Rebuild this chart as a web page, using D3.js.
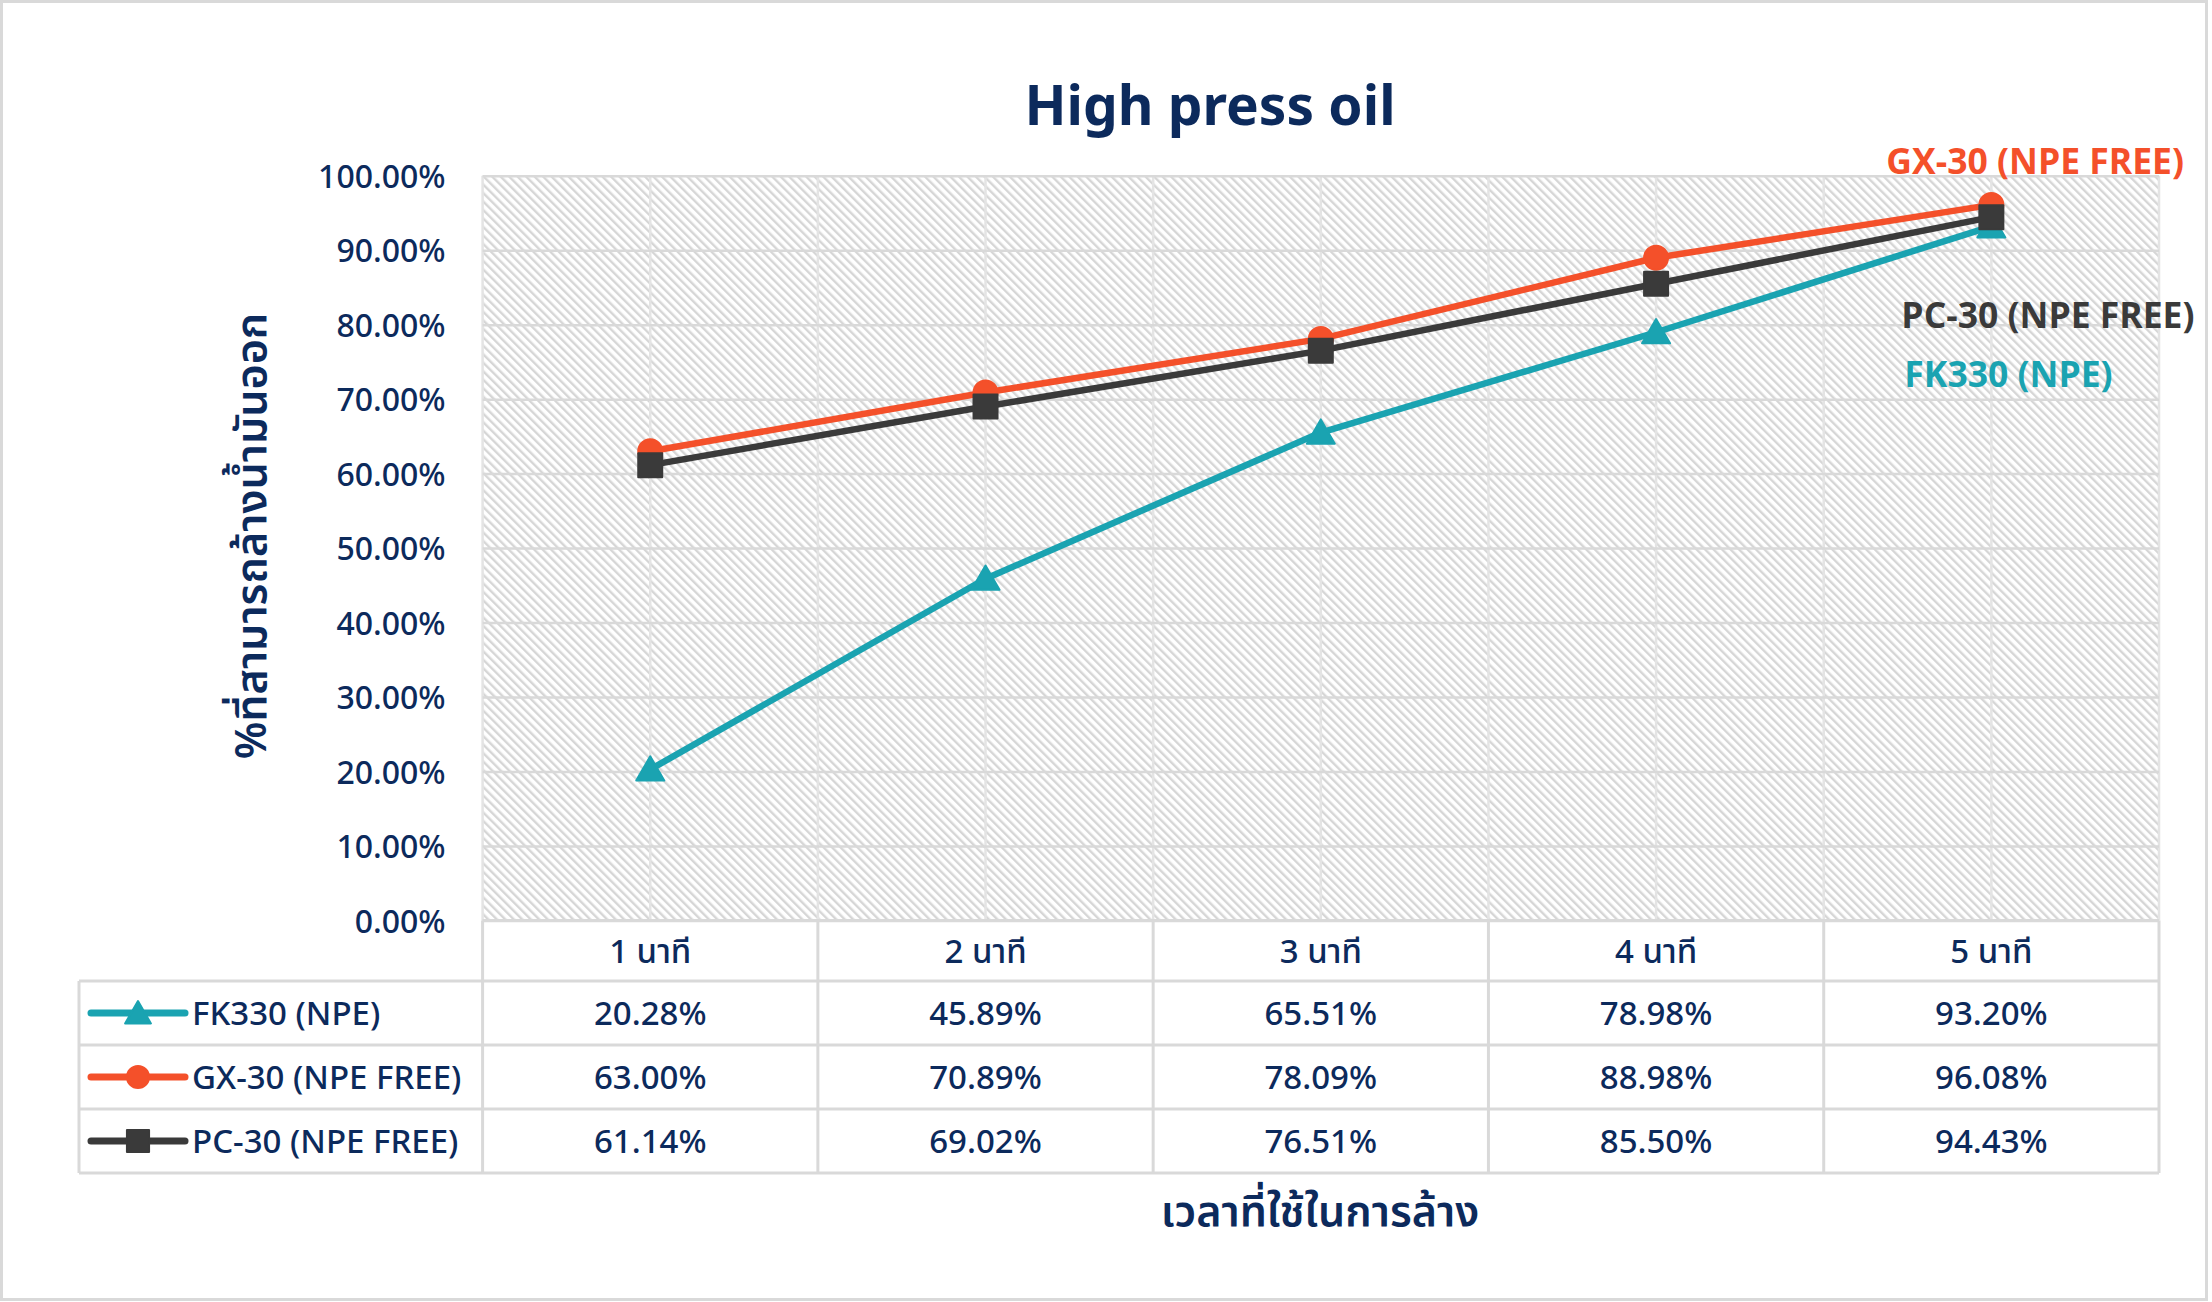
<!DOCTYPE html>
<html><head><meta charset="utf-8">
<script src="https://cdn.jsdelivr.net/npm/d3@7"></script>
<style>body{margin:0;background:#fff}</style>
</head><body><svg id="c" width="2212" height="1302"></svg>
<script>
// ---- data ----
const categories = ["1 นาที", "2 นาที", "3 นาที", "4 นาที", "5 นาที"];
const seriesNames = ["FK330 (NPE)", "GX-30 (NPE FREE)", "PC-30 (NPE FREE)"];
const fk330 = [20.28, 45.89, 65.51, 78.98, 93.20];
const gx30 = [63.00, 70.89, 78.09, 88.98, 96.08];
const pc30 = [61.14, 69.02, 76.51, 85.50, 94.43];
const yTicks = [0, 10, 20, 30, 40, 50, 60, 70, 80, 90, 100];
const titleText = "High press oil";
const yTitleText = "%ที่สามารถล้างน้ำมันออก";
const xTitleText = "เวลาที่ใช้ในการล้าง";

// ---- styles ----
const NAVY = "#0c2a5c", GRID = "#d9d9d9";
const FONT = "'Noto Sans', 'Noto Sans Thai', Lato, sans-serif";
const styles = [
  {color: "#1aa3b1", symbol: d3.symbolTriangle, size: 340, labelDx: -87, labelY: 387},
  {color: "#f4502a", symbol: d3.symbolCircle, size: 452, labelDx: -105, labelY: 174},
  {color: "#3a3a3a", symbol: d3.symbolSquare, size: 576, labelDx: -90, labelY: 328}
];
const seriesValues = [fk330, gx30, pc30];
const series = seriesNames.map((n, i) => ({name: n, values: seriesValues[i], ...styles[i]}));

const svg = d3.select("#c");
const plotL = 482.6, plotR = 2159, plotT = 175.7, plotB = 920.5;
const tableL = 79, headerB = 981, rowH = 64;

const x = d3.scaleBand().domain(categories).range([plotL, plotR]).padding(0);
const y = d3.scaleLinear().domain([0, 100]).range([plotB, plotT]);

// outer border
svg.append("rect").attr("x", 1.5).attr("y", 1.5).attr("width", 2205).attr("height", 1298)
  .attr("fill", "#fff").attr("stroke", GRID).attr("stroke-width", 3);

// hatch pattern
const defs = svg.append("defs");
const pat = defs.append("pattern").attr("id", "hatch").attr("patternUnits", "userSpaceOnUse")
  .attr("width", 6).attr("height", 6).attr("patternTransform", "rotate(-45)");
pat.append("rect").attr("width", 6).attr("height", 6).attr("fill", "#fff");
pat.append("rect").attr("width", 2.4).attr("height", 6).attr("fill", "#d6d6d6");

svg.append("rect").attr("x", plotL).attr("y", plotT).attr("width", plotR - plotL).attr("height", plotB - plotT)
  .attr("fill", "url(#hatch)");

// vertical gridlines (category edges and centers)
const vLines = [];
categories.forEach(c => { vLines.push(x(c)); vLines.push(x(c) + x.bandwidth() / 2); });
vLines.push(plotR);
svg.append("g").selectAll("line").data(vLines).join("line")
  .attr("x1", d => d).attr("x2", d => d).attr("y1", plotT).attr("y2", plotB)
  .attr("stroke", "#e4e4e4").attr("stroke-width", 2.5);

// horizontal gridlines via axis
const yAxis = svg.append("g").attr("transform", `translate(${plotL},0)`)
  .call(d3.axisLeft(y).tickValues(yTicks).tickFormat(d => d3.format(".2f")(d) + "%").tickSize(-(plotR - plotL)).tickPadding(37));
yAxis.select(".domain").remove();
yAxis.selectAll(".tick line").attr("stroke", GRID).attr("stroke-width", 2.5);
yAxis.selectAll(".tick text").attr("fill", NAVY).style("font-family", FONT).style("font-size", "32px")
  .style("font-weight", 500).attr("dy", "0.36em");

// table
const tg = svg.append("g");
tg.append("line").attr("x1", plotL).attr("x2", plotR).attr("y1", plotB).attr("y2", plotB).attr("stroke", GRID).attr("stroke-width", 3);
[headerB, ...series.map((s, i) => headerB + (i + 1) * rowH)].forEach(yy => {
  tg.append("line").attr("x1", tableL).attr("x2", plotR).attr("y1", yy).attr("y2", yy).attr("stroke", GRID).attr("stroke-width", 3);
});
const tableB = headerB + series.length * rowH;
[...categories.map(c => x(c)), plotR].forEach(xx => {
  tg.append("line").attr("x1", xx).attr("x2", xx).attr("y1", plotB).attr("y2", tableB).attr("stroke", GRID).attr("stroke-width", 3);
});
tg.append("line").attr("x1", tableL).attr("x2", tableL).attr("y1", headerB).attr("y2", tableB).attr("stroke", GRID).attr("stroke-width", 3);

// header labels
tg.selectAll("text.cat").data(categories).join("text").attr("class", "cat")
  .attr("x", d => x(d) + x.bandwidth() / 2).attr("y", (plotB + headerB) / 2).attr("dy", "0.36em")
  .attr("text-anchor", "middle").attr("fill", NAVY).style("font-family", FONT).style("font-size", "33px")
  .style("font-weight", 500).text(d => d);

// rows
series.forEach((s, i) => {
  const cy = headerB + i * rowH + rowH / 2;
  tg.append("line").attr("x1", 91).attr("x2", 185).attr("y1", cy).attr("y2", cy)
    .attr("stroke", s.color).attr("stroke-width", 7).attr("stroke-linecap", "round");
  tg.append("path").attr("d", d3.symbol(s.symbol, s.size * 0.85)()).attr("transform", `translate(138,${cy + (s.symbol === d3.symbolTriangle ? 3 : 0)})`)
    .attr("fill", s.color).attr("stroke", s.color).attr("stroke-width", 2).attr("stroke-linejoin", "round");
  tg.append("text").attr("x", 192).attr("y", cy).attr("dy", "0.36em").attr("fill", NAVY)
    .style("font-family", FONT).style("font-size", "33px").style("font-weight", 500).text(s.name);
  tg.selectAll(null).data(s.values).join("text")
    .attr("x", (d, j) => x(categories[j]) + x.bandwidth() / 2).attr("y", cy).attr("dy", "0.36em")
    .attr("text-anchor", "middle").attr("fill", NAVY).style("font-family", FONT).style("font-size", "33px")
    .style("font-weight", 500).text(d => d3.format(".2f")(d) + "%");
});

// lines and markers
const line = d3.line().x((d, j) => x(categories[j]) + x.bandwidth() / 2).y(d => y(d));
series.forEach(s => {
  const g = svg.append("g");
  g.append("path").datum(s.values).attr("d", line).attr("fill", "none")
    .attr("stroke", s.color).attr("stroke-width", 6.5).attr("stroke-linejoin", "round");
  g.selectAll("path.m").data(s.values).join("path").attr("class", "m")
    .attr("d", d3.symbol(s.symbol, s.size)())
    .attr("transform", (d, j) => `translate(${x(categories[j]) + x.bandwidth() / 2},${y(d) + (s.symbol === d3.symbolTriangle ? 3 : 0)})`)
    .attr("fill", s.color).attr("stroke", s.color).attr("stroke-width", 2).attr("stroke-linejoin", "round");
});

// series labels at the end
series.forEach(s => {
  const lastX = x(categories[categories.length - 1]) + x.bandwidth() / 2;
  svg.append("text").attr("x", lastX + s.labelDx).attr("y", s.labelY)
    .attr("fill", s.color).style("font-family", "'Open Sans', sans-serif").style("font-weight", 700)
    .style("font-size", "35.5px").text(s.name);
});

// title
svg.append("text").attr("x", 1210).attr("y", 125).attr("text-anchor", "middle")
  .attr("fill", NAVY).style("font-family", FONT).style("font-weight", 700).style("font-size", "55px")
  .text(titleText);

// y title
svg.append("text").attr("transform", "translate(266,536) rotate(-90)").attr("text-anchor", "middle")
  .attr("fill", NAVY).style("font-family", FONT).style("font-weight", 600).style("font-size", "43px")
  .text(yTitleText);

// x title
svg.append("text").attr("x", 1320).attr("y", 1226).attr("text-anchor", "middle")
  .attr("fill", NAVY).style("font-family", FONT).style("font-weight", 600).style("font-size", "43px")
  .text(xTitleText);
</script>
</body></html>
